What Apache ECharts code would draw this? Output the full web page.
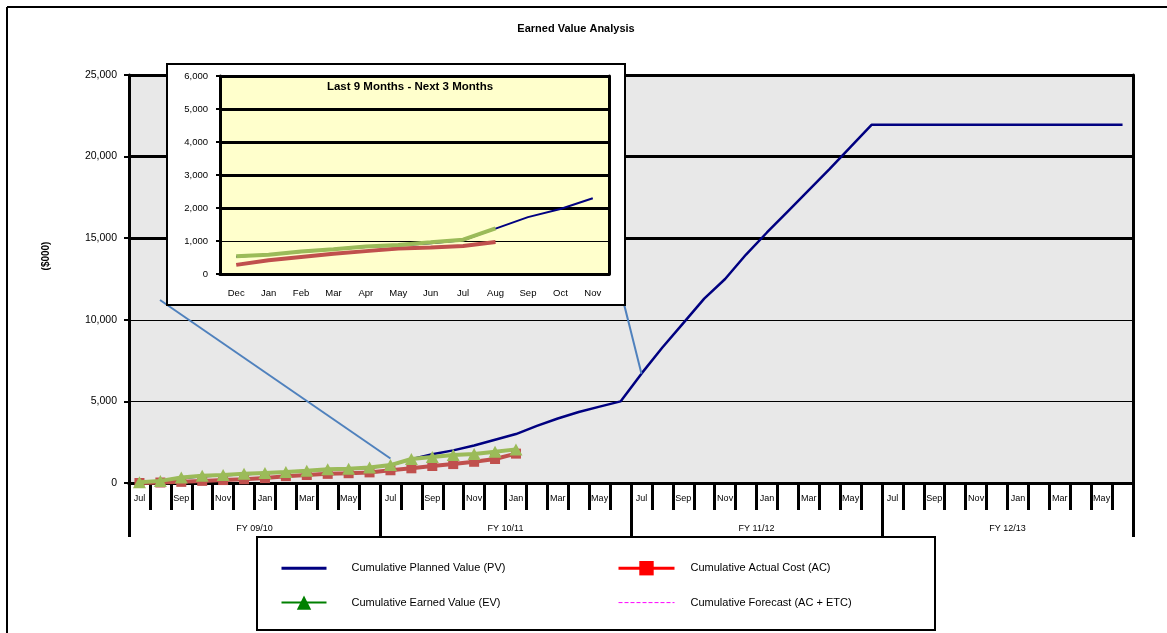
<!DOCTYPE html>
<html>
<head>
<meta charset="utf-8">
<title>Earned Value Analysis</title>
<script src="https://cdn.jsdelivr.net/npm/echarts@6/dist/echarts.min.js"></script>
<style>
html, body { margin: 0; padding: 0; background: #fff; }
#chart { width: 1167px; height: 633px; }
</style>
</head>
<body>
<div id="chart"></div>
<script>
// months of a fiscal year and the fiscal years on the lower axis row
var months = ['Jul', 'Aug', 'Sep', 'Oct', 'Nov', 'Dec', 'Jan', 'Feb', 'Mar', 'Apr', 'May', 'Jun'];
var fiscalYears = ['FY 09/10', 'FY 10/11', 'FY 11/12', 'FY 12/13'];

// cumulative values ($000), one per month starting Jul 09
var plannedValue = [40, 120, 300, 420, 480, 540, 610, 670, 740, 820, 870, 940,
    1100, 1450, 1760, 2000, 2300, 2650, 3000, 3500, 3950, 4350, 4680, 5000,
    6700, 8300, 9800, 11300, 12500, 14000, 15350, 16650, 17950, 19250, 20600, 21950,
    21950, 21950, 21950, 21950, 21950, 21950, 21950, 21950, 21950, 21950, 21950, 21950];
var actualCost = [0, 30, 70, 130, 180, 230, 300, 420, 490, 560, 600, 650,
    780, 900, 1040, 1160, 1300, 1470, 1800];
var earnedValue = [50, 130, 340, 450, 490, 560, 620, 680, 750, 840, 880, 950,
    1100, 1470, 1590, 1720, 1780, 1920, 2060];
var forecast = [];

// inset: last 9 months - next 3 months
var insetMonths = ['Dec', 'Jan', 'Feb', 'Mar', 'Apr', 'May', 'Jun', 'Jul', 'Aug', 'Sep', 'Oct', 'Nov'];
var insetPlanned = [520, 580, 670, 745, 820, 860, 930, 1020, 1376, 1723, 1970, 2297];
var insetActual = [277, 416, 515, 614, 693, 772, 802, 851, 970];
var insetEarned = [535, 585, 683, 752, 832, 881, 960, 1040, 1386];

var font = '"Liberation Sans", Arial, sans-serif';
var none = 'rgba(0,0,0,0)';

// one unique category per month, label shows only the month name
var monthCategories = [];
fiscalYears.forEach(function (fy, i) {
    months.forEach(function (m) {
        monthCategories.push(m + ' ' + i);
    });
});

function commas(v) {
    return String(v).replace(/\B(?=(\d{3})+(?!\d))/g, ',');
}

var chart = echarts.init(document.getElementById('chart'));

var option = {
    animation: false,
    textStyle: { fontFamily: font },
    grid: [
        { left: 129, top: 75, width: 1004, height: 408, show: true, backgroundColor: '#E8E8E8', borderWidth: 0 },
        { left: 220, top: 76, width: 389, height: 198, show: true, backgroundColor: '#FFFFCC', borderWidth: 0, z: 51 }
    ],
    xAxis: [
        {
            gridIndex: 0, type: 'category', data: monthCategories,
            axisLine: { show: true, lineStyle: { color: '#000', width: 3 } },
            axisTick: { show: true, interval: 0, length: 27, lineStyle: { color: '#000', width: 3 } },
            axisLabel: {
                interval: 1, margin: 11, fontSize: 9, color: '#000',
                formatter: function (v) { return v.split(' ')[0]; }
            },
            splitLine: { show: false }
        },
        {
            gridIndex: 0, type: 'category', position: 'bottom', data: fiscalYears,
            axisLine: { show: true, lineStyle: { color: '#000', width: 3 } },
            axisTick: { show: true, interval: 0, length: 54, lineStyle: { color: '#000', width: 3 } },
            axisLabel: { margin: 41, fontSize: 9, color: '#000' },
            splitLine: { show: false }
        },
        {
            gridIndex: 1, type: 'category', data: insetMonths, z: 52,
            axisLine: { show: true, lineStyle: { color: '#000', width: 3 } },
            axisTick: { show: false },
            axisLabel: { margin: 14, fontSize: 9.5, color: '#000' },
            splitLine: { show: false }
        }
    ],
    yAxis: [
        {
            gridIndex: 0, type: 'value', min: 0, max: 25000, interval: 5000,
            axisLine: { show: true, lineStyle: { color: '#000', width: 3 } },
            axisTick: { show: true, length: 5, lineStyle: { color: '#000', width: 2 } },
            axisLabel: { margin: 12, fontSize: 10.5, color: '#000', formatter: commas },
            splitLine: { lineStyle: { color: '#000', width: 1 } }
        },
        {
            gridIndex: 0, type: 'value', position: 'right', min: 0, max: 25000, interval: 5000,
            axisLine: { show: true, lineStyle: { color: '#000', width: 3 } },
            axisTick: { show: false },
            axisLabel: { show: false },
            splitLine: { show: true, lineStyle: { color: [none, none, none, '#000', '#000', '#000'], width: 3 } }
        },
        {
            gridIndex: 1, type: 'value', min: 0, max: 6000, interval: 1000, z: 52,
            axisLine: { show: true, lineStyle: { color: '#000', width: 3 } },
            axisTick: { show: true, length: 4, lineStyle: { color: '#000', width: 2 } },
            axisLabel: { margin: 12, fontSize: 9.5, color: '#000', formatter: commas },
            splitLine: { lineStyle: { color: '#000', width: 1 } }
        },
        {
            gridIndex: 1, type: 'value', position: 'right', min: 0, max: 6000, interval: 1000, z: 52,
            axisLine: { show: true, lineStyle: { color: '#000', width: 3 } },
            axisTick: { show: false },
            axisLabel: { show: false },
            splitLine: { show: true, lineStyle: { color: [none, none, '#000', '#000', '#000', '#000', '#000'], width: 3 } }
        }
    ],
    legend: [
        {
            orient: 'vertical', left: 275, top: 556, itemWidth: 45, itemHeight: 18, itemGap: 20,
            selectedMode: false, z: 60,
            textStyle: { fontSize: 11, color: '#000', padding: [0, 0, 0, 20] },
            data: [
                { name: 'Cumulative Planned Value (PV)', itemStyle: { color: none, borderWidth: 0, opacity: 0 }, lineStyle: { color: '#000080', width: 3 } },
                { name: 'Cumulative Earned Value (EV)', itemStyle: { color: '#008000' }, lineStyle: { color: '#008000', width: 2 } }
            ]
        },
        {
            orient: 'vertical', left: 612, top: 556, itemWidth: 56, itemHeight: 18, itemGap: 20,
            selectedMode: false, z: 60,
            textStyle: { fontSize: 11, color: '#000', padding: [0, 0, 0, 11] },
            data: [
                { name: 'Cumulative Actual Cost (AC)', itemStyle: { color: '#FF0000' }, lineStyle: { color: '#FF0000', width: 3 } },
                { name: 'Cumulative Forecast (AC + ETC)', itemStyle: { color: none, borderWidth: 0, opacity: 0 }, lineStyle: { color: '#FF00FF', width: 1, type: 'dashed' } }
            ]
        }
    ],
    graphic: [
        { id: 'frameTop', type: 'line', shape: { x1: 7, y1: 7, x2: 1167, y2: 7 }, style: { stroke: '#000', lineWidth: 2 } },
        { id: 'frameLeft', type: 'line', shape: { x1: 7, y1: 7, x2: 7, y2: 633 }, style: { stroke: '#000', lineWidth: 2 } },
        {
            id: 'title', type: 'text', x: 576, y: 29,
            style: { text: 'Earned Value Analysis', font: 'bold 11px ' + font, fill: '#000', textAlign: 'center', textVerticalAlign: 'middle' }
        },
        {
            id: 'yName', type: 'text', x: 46, y: 256, rotation: Math.PI / 2,
            style: { text: '($000)', font: 'bold 10px ' + font, fill: '#000', textAlign: 'center', textVerticalAlign: 'middle' }
        },
        { id: 'insetBox', type: 'rect', z: 50, shape: { x: 167, y: 64, width: 458, height: 241 }, style: { fill: '#fff', stroke: '#000', lineWidth: 2 } },
        {
            id: 'insetTitle', type: 'text', z: 60, x: 410, y: 87,
            style: { text: 'Last 9 Months - Next 3 Months', font: 'bold 11.5px ' + font, fill: '#000', textAlign: 'center', textVerticalAlign: 'middle' }
        },
        { id: 'legendBox', type: 'rect', z: 50, shape: { x: 257, y: 537, width: 678, height: 93 }, style: { fill: '#fff', stroke: '#000', lineWidth: 2 } }
    ],
    series: [
        {
            name: 'Cumulative Planned Value (PV)', type: 'line', xAxisIndex: 0, yAxisIndex: 0,
            data: plannedValue, symbol: 'none', z: 2,
            lineStyle: { color: '#000080', width: 2.5 }, itemStyle: { color: '#000080' }
        },
        {
            name: 'Cumulative Actual Cost (AC)', type: 'line', xAxisIndex: 0, yAxisIndex: 0,
            data: actualCost, symbol: 'rect', symbolSize: 10, z: 3,
            lineStyle: { color: '#C0504D', width: 4 }, itemStyle: { color: '#C0504D' }
        },
        {
            name: 'Cumulative Earned Value (EV)', type: 'line', xAxisIndex: 0, yAxisIndex: 0,
            data: earnedValue, symbol: 'triangle', symbolSize: [13, 12], z: 4,
            lineStyle: { color: '#9BBB59', width: 4 }, itemStyle: { color: '#9BBB59' }
        },
        {
            name: 'Cumulative Forecast (AC + ETC)', type: 'line', xAxisIndex: 0, yAxisIndex: 0,
            data: forecast, symbol: 'none', z: 2,
            lineStyle: { color: '#FF00FF', width: 1, type: 'dashed' }, itemStyle: { color: '#FF00FF' }
        },
        {
            name: 'inset PV', type: 'line', xAxisIndex: 2, yAxisIndex: 2,
            data: insetPlanned, symbol: 'none', z: 55,
            lineStyle: { color: '#000080', width: 2 }
        },
        {
            name: 'inset AC', type: 'line', xAxisIndex: 2, yAxisIndex: 2,
            data: insetActual, symbol: 'none', z: 56,
            lineStyle: { color: '#C0504D', width: 4 }
        },
        {
            name: 'inset EV', type: 'line', xAxisIndex: 2, yAxisIndex: 2,
            data: insetEarned, symbol: 'none', z: 57,
            lineStyle: { color: '#9BBB59', width: 4 }
        }
    ]
};

chart.setOption(option);

// blue pointer lines from the inset box down to the main chart
var from1 = chart.convertToPixel({ xAxisIndex: 0, yAxisIndex: 0 }, [12.4, 1500]);
var from2 = chart.convertToPixel({ xAxisIndex: 0, yAxisIndex: 0 }, [24, plannedValue[24]]);
chart.setOption({
    graphic: [
        { id: 'pointer1', type: 'line', z: 49, shape: { x1: from1[0], y1: from1[1], x2: 160, y2: 300 }, style: { stroke: '#4F81BD', lineWidth: 2 } },
        { id: 'pointer2', type: 'line', z: 49, shape: { x1: from2[0], y1: from2[1], x2: 623, y2: 300 }, style: { stroke: '#4F81BD', lineWidth: 2 } }
    ]
});
</script>
</body>
</html>
